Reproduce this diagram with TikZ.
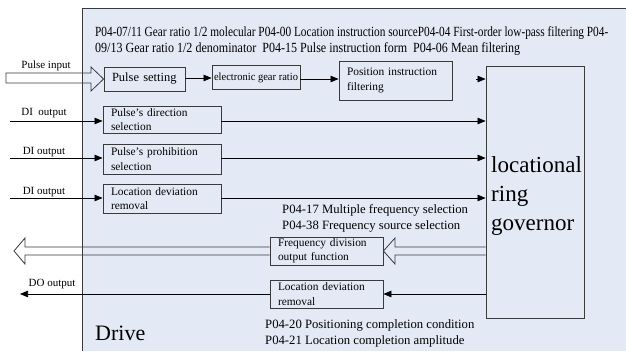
\documentclass[tikz,border=0pt]{standalone}
\usepackage{fontspec}
\setmainfont{Liberation Serif}
\usetikzlibrary{arrows.meta}
\definecolor{bgblue}{HTML}{E4EAF5}
\definecolor{edgegray}{HTML}{3A3A3A}
\tikzset{
  blk/.style={draw=edgegray, line width=0.9pt, inner ysep=0pt, inner xsep=8pt, align=left,
              font=\fontsize{11.4}{14.5}\selectfont},
  lbl/.style={font=\fontsize{11}{14}\selectfont, inner sep=0pt},
  note/.style={font=\fontsize{12.7}{15}\selectfont, inner sep=0pt, anchor=base west},
  arr/.style={-{Triangle[length=8pt,width=6.5pt]}, line width=0.7pt},
  hollow/.style={draw=edgegray, line width=0.8pt, line join=miter},
}
\begin{document}
\begin{tikzpicture}[x=1pt,y=-1pt]
\useasboundingbox (0,0) rectangle (626,351);
% drive region
\fill[bgblue] (82,8) rectangle (626,351);
\draw[edgegray, line width=0.9pt] (82,351) -- (82,8) -- (626,8);

% header
\node[anchor=base west, inner sep=0pt] (h1) at (95,36)
  {\resizebox{513pt}{\height}{\fontsize{14}{16}\selectfont P04-07/11 Gear ratio 1/2 molecular P04-00 Location instruction sourceP04-04 First-order low-pass filtering P04-}};
\node[anchor=base west, inner sep=0pt] (h2) at (95,52)
  {\resizebox{425pt}{\height}{\fontsize{14}{16}\selectfont 09/13 Gear ratio 1/2 denominator\ \ P04-15 Pulse instruction form\ \ P04-06 Mean filtering}};

% boxes
\node[blk, text width=65pt, minimum height=24pt, font=\fontsize{12.5}{15}\selectfont] (ps) at (144.5,79) {Pulse setting};
\node[draw=edgegray, line width=0.9pt, minimum width=88pt, minimum height=24pt, inner sep=0pt] (egr) at (256,77.5)
  {\resizebox{84pt}{\height}{\fontsize{11}{13}\selectfont electronic gear ratio}};
\node[blk, text width=97pt, minimum height=39pt] (pif) at (395.5,80.5) {Position instruction\\filtering};
\node[draw=edgegray, line width=0.9pt, minimum width=98pt, minimum height=252pt, inner sep=0pt] (gov) at (535,192) {};
\node[anchor=north west, align=left, inner sep=0pt, font=\fontsize{23}{29}\selectfont] (govt) at (491,156) {locational\\ring\\governor};

\node[blk, text width=102pt, minimum height=27pt] (pds) at (162,119.5) {Pulse's direction\\selection};
\node[blk, text width=102pt, minimum height=30pt] (pps) at (162,159) {Pulse's prohibition\\selection};
\node[blk, text width=102pt, minimum height=29pt] (ldr) at (162,198.5) {Location deviation\\removal};
\node[blk, text width=97pt, minimum height=28pt] (fdo) at (326.5,251) {Frequency division\\output function};
\node[blk, text width=97pt, minimum height=28pt] (ldr2) at (326.5,294) {Location deviation\\removal};

% external ends
\coordinate (in1) at (10,121);
\coordinate (in2) at (10,158);
\coordinate (in3) at (10,198);
\coordinate (out1) at (20,294);
\coordinate (pifend) at (476,79);

% labels
\node[lbl] (lpi) at (46,66) {Pulse input};
\node[lbl] (ld1) at (44,113) {DI\ \ output};
\node[lbl] (ld2) at (44,152) {DI output};
\node[lbl] (ld3) at (44,192) {DI output};
\node[lbl] (ldo) at (52,284) {DO output};

\node[note] (n17) at (282,213) {P04-17 Multiple frequency selection};
\node[note] (n38) at (282,229) {P04-38 Frequency source selection};
\node[note] (n20) at (265,328) {P04-20 Positioning completion condition};
\node[note] (n21) at (265,344) {P04-21 Location completion amplitude};
\node[anchor=base west, inner sep=0pt, font=\fontsize{22}{26}\selectfont] (drv) at (95,340) {Drive};

% connectors
\draw[arr] (ps.east |- 0,78) -- (egr.west |- 0,78);
\draw[arr] (egr.east |- 0,79) -- (pif.west |- 0,79);
\draw[arr] (pifend) -- (gov.west |- pifend);
\draw[arr] (in1) -- (pds.west |- in1);
\draw[arr] (pds.east |- in1) -- (gov.west |- in1);
\draw[arr] (in2) -- (pps.west |- in2);
\draw[arr] (pps.east |- in2) -- (gov.west |- in2);
\draw[arr] (in3) -- (ldr.west |- in3);
\draw[arr] (ldr.east |- in3) -- (gov.west |- in3);
\draw[arr] (gov.west |- ldr2.east) -- (ldr2.east);
\draw[arr] (ldr2.west) -- (out1);

% hollow block arrows
\draw[hollow] (6,73) -- (91,73) -- (91,67) -- (ps.west |- 0,79) -- (91,91) -- (91,83) -- (6,83) -- cycle;
\draw[hollow] (gov.west |- 0,247) -- (395,247) -- (395,238) -- (fdo.east) -- (395,264) -- (395,255) -- (gov.west |- 0,255);
\draw[hollow] (fdo.west |- 0,247) -- (25,247) -- (25,238) -- (14,251) -- (25,264) -- (25,255) -- (fdo.west |- 0,255);
\end{tikzpicture}
\end{document}
